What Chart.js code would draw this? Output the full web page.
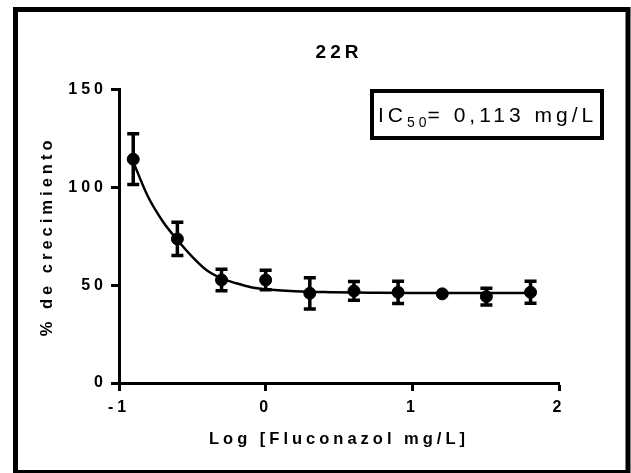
<!DOCTYPE html>
<html>
<head>
<meta charset="utf-8">
<script src="https://cdn.jsdelivr.net/npm/chart.js@4.4.1/dist/chart.umd.min.js"></script>
<style>
  body { margin: 0; background: #fff; }
  #caja { width: 631px; height: 473px; }
</style>
</head>
<body>
<div id="caja"><canvas id="grafico"></canvas></div>
<script>
// log10 de la concentración (mg/L) y % de crecimiento medio
const logConc = [-0.903, -0.602, -0.301, 0, 0.301, 0.602, 0.903, 1.204, 1.505, 1.806];
const crecimiento = [114.5, 73.7, 52.7, 52.7, 45.9, 47.1, 46.4, 45.6, 44.2, 46.4];
const errorEst = [13, 8.5, 5.5, 5, 8, 4.8, 5.7, 1, 4.3, 5.6];

// curva ajustada
const curvaX = [-0.9, -0.8, -0.7, -0.6, -0.5, -0.4, -0.3, -0.2, -0.1, 0, 0.2, 0.4, 0.7, 1.0, 1.4, 1.806];
const curvaY = [112.5, 95, 82.5, 73, 64.5, 57.5, 53.5, 51, 49, 48, 47, 46.5, 46.2, 46, 46, 46];

const ejeY = { min: 0, max: 150, paso: 50 };
const ejeX = { min: -1, max: 2, paso: 1 };

const tituloGrafico = '22R';
const tituloX = 'Log [Fluconazol mg/L]';
const tituloY = '% de crecimiento';

const espaciado = '4px';

// espaciado entre letras, estilo Prism
const letras = {
  id: 'letras',
  beforeUpdate(chart) { chart.ctx.letterSpacing = espaciado; },
  beforeDraw(chart) { chart.ctx.letterSpacing = espaciado; }
};

// barras de error
const barrasError = {
  id: 'barrasError',
  afterDatasetsDraw(chart) {
    const ctx = chart.ctx;
    const sx = chart.scales.x;
    const sy = chart.scales.y;
    ctx.save();
    ctx.strokeStyle = '#000';
    ctx.lineWidth = 3.5;
    logConc.forEach((x, i) => {
      const px = sx.getPixelForValue(x);
      const arriba = sy.getPixelForValue(crecimiento[i] + errorEst[i]);
      const abajo = sy.getPixelForValue(crecimiento[i] - errorEst[i]);
      if (abajo - arriba < 14) return;
      ctx.beginPath();
      ctx.moveTo(px, arriba);
      ctx.lineTo(px, abajo);
      ctx.moveTo(px - 6, arriba);
      ctx.lineTo(px + 6, arriba);
      ctx.moveTo(px - 6, abajo);
      ctx.lineTo(px + 6, abajo);
      ctx.stroke();
    });
    ctx.restore();
  }
};

// marco exterior y recuadro del IC50
const marco = {
  id: 'marco',
  afterDraw(chart) {
    const ctx = chart.ctx;
    ctx.save();
    ctx.strokeStyle = '#000';
    ctx.lineWidth = 5;
    ctx.strokeRect(15.5, 9.5, 612.5, 463);

    ctx.lineWidth = 4;
    ctx.strokeRect(372, 91, 230, 47);

    ctx.fillStyle = '#000';
    ctx.textBaseline = 'alphabetic';
    ctx.letterSpacing = '4px';
    let x = 378;
    const base = 122;
    ctx.font = '21px "Liberation Sans", Arial, sans-serif';
    ctx.fillText('IC', x, base);
    x += ctx.measureText('IC').width;
    ctx.font = '14px "Liberation Sans", Arial, sans-serif';
    ctx.fillText('50', x, base + 5);
    x += ctx.measureText('50').width - 3;
    ctx.font = '21px "Liberation Sans", Arial, sans-serif';
    ctx.fillText('= 0,113 mg/L', x, base);
    ctx.restore();
  }
};

const fuenteNegrita = { family: '"Liberation Sans", Arial, sans-serif', weight: 'bold' };

new Chart(document.getElementById('grafico'), {
  type: 'scatter',
  data: {
    datasets: [
      {
        label: 'curva',
        data: curvaX.map((x, i) => ({ x: x, y: curvaY[i] })),
        showLine: true,
        borderColor: '#000',
        borderWidth: 2.5,
        pointRadius: 0,
        cubicInterpolationMode: 'monotone',
        order: 2
      },
      {
        label: 'datos',
        data: logConc.map((x, i) => ({ x: x, y: crecimiento[i] })),
        showLine: false,
        backgroundColor: '#000',
        borderColor: '#000',
        borderWidth: 1,
        pointRadius: 6,
        order: 1
      }
    ]
  },
  options: {
    responsive: true,
    maintainAspectRatio: false,
    animation: false,
    layout: { padding: { left: 0, right: 72, top: 0, bottom: 0 } },
    plugins: {
      legend: { display: false },
      tooltip: { enabled: false },
      title: {
        display: true,
        text: tituloGrafico,
        fullSize: false,
        color: '#000',
        font: Object.assign({ size: 19, lineHeight: 1.2 }, fuenteNegrita),
        padding: { top: 41, bottom: 26 }
      }
    },
    scales: {
      x: {
        type: 'linear',
        min: ejeX.min,
        max: ejeX.max,
        afterFit: s => { s.height = 90; },
        ticks: {
          stepSize: ejeX.paso,
          color: '#000',
          padding: 7,
          font: Object.assign({ size: 16 }, fuenteNegrita)
        },
        grid: { drawOnChartArea: false, drawTicks: true, tickLength: 8, tickWidth: 3, tickColor: '#000', color: '#000' },
        border: { display: true, width: 3, color: '#000' },
        title: {
          display: true,
          text: tituloX,
          color: '#000',
          font: Object.assign({ size: 16.5, lineHeight: 1.2 }, fuenteNegrita),
          padding: { top: 0, bottom: 24 }
        }
      },
      y: {
        type: 'linear',
        min: ejeY.min,
        max: ejeY.max,
        afterFit: s => { s.width = 119; },
        ticks: {
          stepSize: ejeY.paso,
          color: '#000',
          padding: 4,
          font: Object.assign({ size: 16 }, fuenteNegrita)
        },
        grid: { drawOnChartArea: false, drawTicks: true, tickLength: 8, tickWidth: 3, tickColor: '#000', color: '#000' },
        border: { display: true, width: 3, color: '#000' },
        title: {
          display: true,
          text: tituloY,
          color: '#000',
          font: Object.assign({ size: 16.5, lineHeight: 1.2 }, fuenteNegrita),
          padding: { top: 38, bottom: 0 }
        }
      }
    }
  },
  plugins: [letras, barrasError, marco]
});
</script>
</body>
</html>
